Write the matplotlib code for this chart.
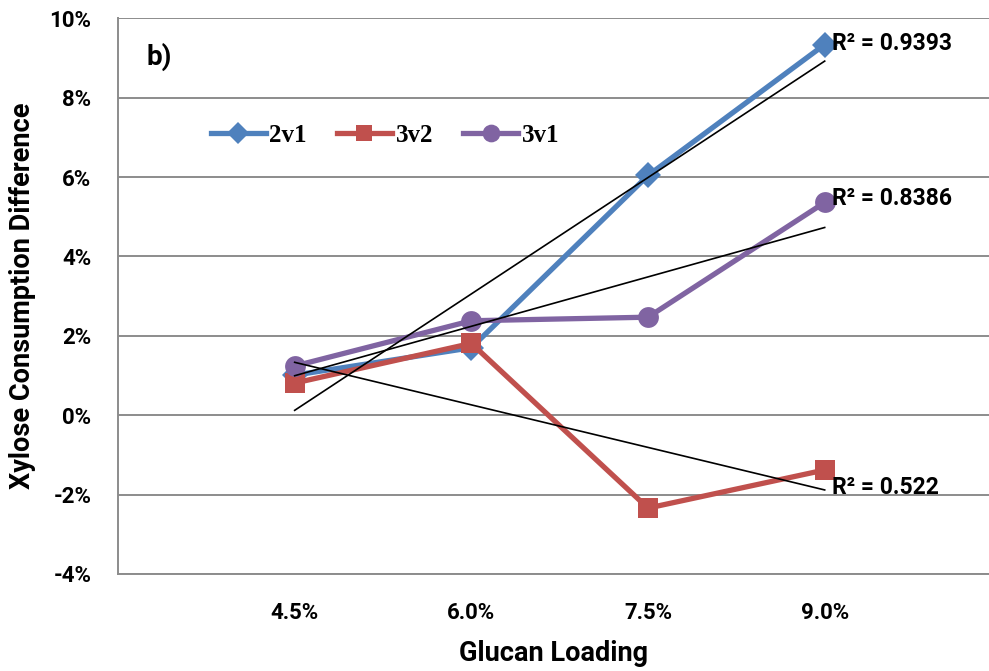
import numpy as np
import matplotlib.pyplot as plt
from matplotlib.ticker import FuncFormatter


# glucan loading categories and xylose consumption differences (%)
loadings = ['4.5%', '6.0%', '7.5%', '9.0%']
diff_2v1 = [1.01, 1.70, 6.04, 9.34]
diff_3v2 = [0.81, 1.81, -2.34, -1.38]
diff_3v1 = [1.24, 2.38, 2.47, 5.36]
r2_labels = ['R² = 0.9393', 'R² = 0.522', 'R² = 0.8386']

SANS = 'Roboto'
SERIF = 'Liberation Serif'


def plot_xylose_diff():
    fig = plt.figure(figsize=(9.89, 6.71), dpi=100)
    ax = fig.add_axes([0.1193, 0.1446, 0.8807, 0.8281])

    x = np.arange(1, len(loadings) + 1)
    series = [
        ('2v1', diff_2v1, '#4F81BD', 'D', 13.5),
        ('3v2', diff_3v2, '#C0504D', 's', 14),
        ('3v1', diff_3v1, '#8064A2', 'o', 15),
    ]
    for name, vals, color, marker, ms in series:
        ax.plot(x, vals, '-', color=color, lw=3.8, marker=marker,
                markersize=ms, markeredgewidth=0, label=name, zorder=3)

    # linear trendlines
    r2_offsets = [0.02, -0.45, 0.10]
    for (name, vals, color, marker, ms), lab, dy in zip(series, r2_labels, r2_offsets):
        p = np.polyfit(x, vals, 1)
        ax.plot(x[[0, -1]], np.polyval(p, x[[0, -1]]), 'k-', lw=1.2, zorder=4)
        ax.text(x[-1] + 0.04, vals[-1] + dy, lab, fontsize=16.5,
                fontweight='bold', family=SANS, va='center', ha='left',
                zorder=5)

    ax.set_xlim(0, 4.93)
    ax.set_ylim(-4, 10)
    ax.set_yticks(np.arange(-4, 11, 2))
    ax.yaxis.set_major_formatter(FuncFormatter(lambda v, pos: '{:.0f}%'.format(v)))
    ax.set_xticks(x)
    ax.set_xticklabels(loadings)
    ax.tick_params(length=0, labelsize=16, pad=20)
    ax.tick_params(axis='y', pad=19)
    for lbl in ax.get_xticklabels() + ax.get_yticklabels():
        lbl.set_fontweight('bold')
        lbl.set_family(SANS)

    ax.grid(axis='y', color='#8c8c8c', lw=1.4, zorder=1)
    ax.set_axisbelow(True)
    for side in ['top', 'right']:
        ax.spines[side].set_visible(False)
    for side in ['left', 'bottom']:
        ax.spines[side].set_color('#8c8c8c')
        ax.spines[side].set_linewidth(1.4)

    ax.set_xlabel('Glucan Loading', fontsize=19.5, fontweight='bold',
                  family=SANS, labelpad=12)
    ax.set_ylabel('Xylose Consumption Difference', fontsize=19.5,
                  fontweight='bold', family=SANS, labelpad=10)

    ax.text(146 / 989, 1 - 57 / 671, 'b)', transform=fig.transFigure,
            fontsize=20, fontweight='bold', family=SANS, va='center')

    fig.legend(loc='center left', bbox_to_anchor=(198 / 989, 1 - 135 / 671),
               ncol=3, frameon=False, borderpad=0, handlelength=2.2,
               handletextpad=0.15, columnspacing=1.2, markerscale=0.85,
               prop={'family': SERIF, 'weight': 'bold', 'size': 18})

    fig.savefig('out.png', dpi=100)


if __name__ == '__main__':
    plot_xylose_diff()
